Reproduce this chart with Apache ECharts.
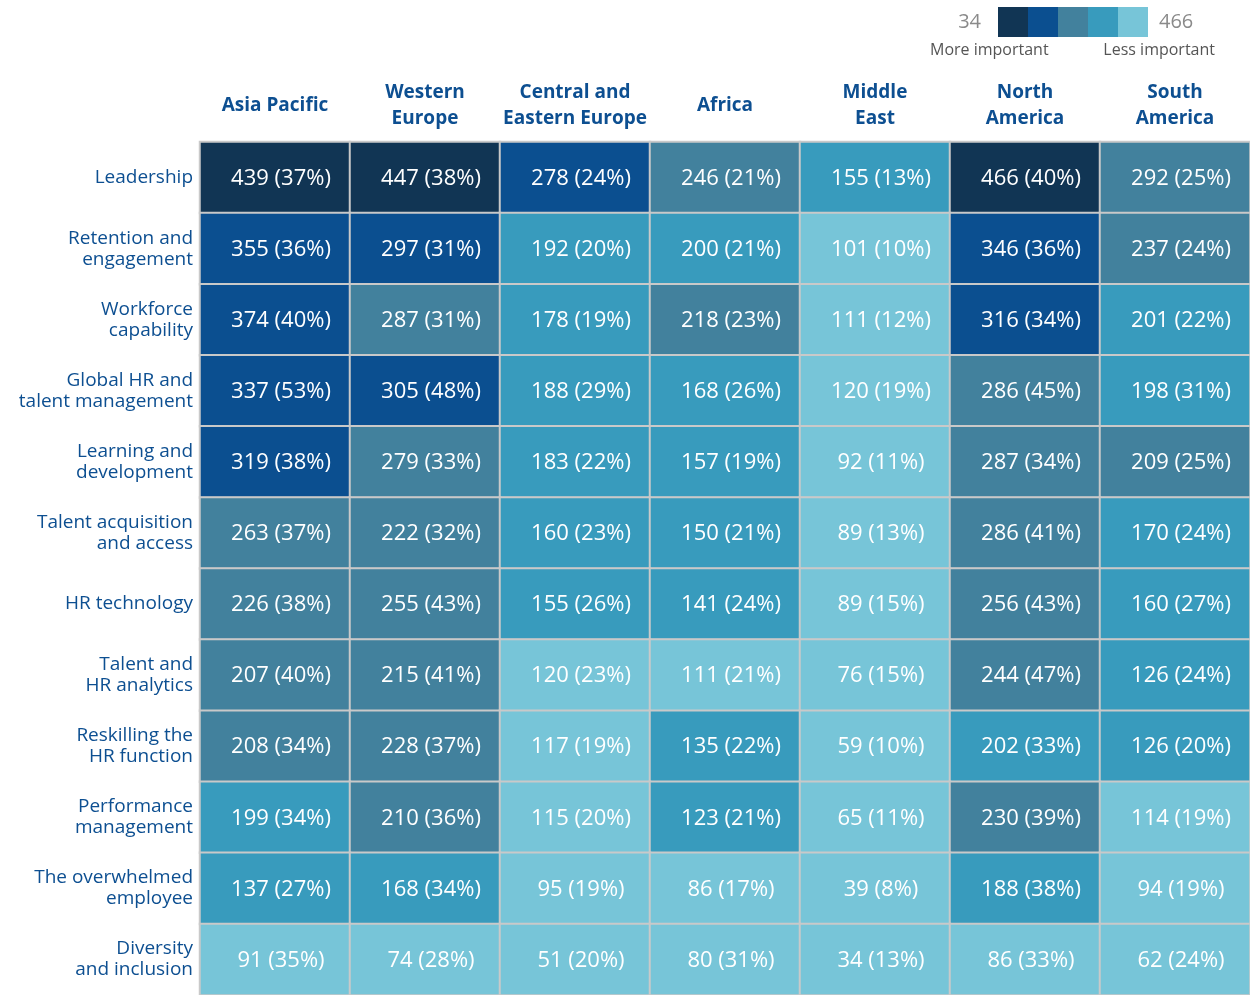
<!DOCTYPE html>
<html>
<head>
<meta charset="utf-8">
<script src="https://cdn.jsdelivr.net/npm/echarts@6/dist/echarts.min.js"></script>
<style>
  html, body { margin: 0; padding: 0; background: #fff; }
  #chart { width: 1250px; height: 995px; }
</style>
</head>
<body>
<div id="chart"></div>
<script>
const regions = [
  'Asia Pacific', 'Western\nEurope', 'Central and\nEastern Europe', 'Africa',
  'Middle\nEast', 'North\nAmerica', 'South\nAmerica',
];

const topics = [
  'Leadership',
  'Retention and\nengagement',
  'Workforce\ncapability',
  'Global HR and\ntalent management',
  'Learning and\ndevelopment',
  'Talent acquisition\nand access',
  'HR technology',
  'Talent and\nHR analytics',
  'Reskilling the\nHR function',
  'Performance\nmanagement',
  'The overwhelmed\nemployee',
  'Diversity\nand inclusion',
];

// number of mentions, one row per topic, one column per region
const counts = [
  [439, 447, 278, 246, 155, 466, 292],
  [355, 297, 192, 200, 101, 346, 237],
  [374, 287, 178, 218, 111, 316, 201],
  [337, 305, 188, 168, 120, 286, 198],
  [319, 279, 183, 157, 92, 287, 209],
  [263, 222, 160, 150, 89, 286, 170],
  [226, 255, 155, 141, 89, 256, 160],
  [207, 215, 120, 111, 76, 244, 126],
  [208, 228, 117, 135, 59, 202, 126],
  [199, 210, 115, 123, 65, 230, 114],
  [137, 168, 95, 86, 39, 188, 94],
  [91, 74, 51, 80, 34, 86, 62],
];

// share of respondents (%)
const shares = [
  [37, 38, 24, 21, 13, 40, 25],
  [36, 31, 20, 21, 10, 36, 24],
  [40, 31, 19, 23, 12, 34, 22],
  [53, 48, 29, 26, 19, 45, 31],
  [38, 33, 22, 19, 11, 34, 25],
  [37, 32, 23, 21, 13, 41, 24],
  [38, 43, 26, 24, 15, 43, 27],
  [40, 41, 23, 21, 15, 47, 24],
  [34, 37, 19, 22, 10, 33, 20],
  [34, 36, 20, 21, 11, 39, 19],
  [27, 34, 19, 17, 8, 38, 19],
  [35, 28, 20, 31, 13, 33, 24],
];

// importance band shown in the source (1 = more important ... 5 = less important)
const bands = [
  [1, 1, 2, 3, 4, 1, 3],
  [2, 2, 4, 4, 5, 2, 3],
  [2, 3, 4, 3, 5, 2, 4],
  [2, 2, 4, 4, 5, 3, 4],
  [2, 3, 4, 4, 5, 3, 3],
  [3, 3, 4, 4, 5, 3, 4],
  [3, 3, 4, 4, 5, 3, 4],
  [3, 3, 5, 5, 5, 3, 4],
  [3, 3, 5, 4, 5, 4, 4],
  [4, 3, 5, 4, 5, 3, 5],
  [4, 4, 5, 5, 5, 4, 5],
  [5, 5, 5, 5, 5, 5, 5],
];

const legendLow = '34';
const legendHigh = '466';
const bandColors = ['#113554', '#0b4f90', '#42819d', '#389bbd', '#77c5d8'];

const cells = [];
counts.forEach((row, r) => {
  row.forEach((v, c) => {
    cells.push([c, r, v, shares[r][c], bands[r][c]]);
  });
});

const chart = echarts.init(document.getElementById('chart'));
const blue = '#0d4f91';
const font = 'Open Sans';

// colour key in the top right corner
const keyX = 998;
const keyY = 7;
const keyBox = 30;
const legendItems = bandColors.map((color, i) => ({
  type: 'rect',
  shape: { x: keyX + i * keyBox, y: keyY, width: keyBox, height: keyBox },
  style: { fill: color },
}));

chart.setOption({
  backgroundColor: '#fff',
  animation: false,
  textStyle: { fontFamily: font },
  grid: { left: 200, right: 0, top: 142, bottom: 0 },
  xAxis: {
    type: 'category',
    position: 'top',
    data: regions,
    axisLine: { show: false },
    axisTick: { show: false },
    axisLabel: {
      color: blue,
      fontWeight: 'bold',
      fontSize: 19,
      lineHeight: 26,
      fontFamily: font,
      margin: 36,
      verticalAlign: 'middle',
      interval: 0,
    },
  },
  yAxis: {
    type: 'category',
    inverse: true,
    data: topics,
    axisLine: { show: false },
    axisTick: { show: false },
    axisLabel: {
      color: blue,
      fontSize: 19,
      lineHeight: 21,
      fontFamily: font,
      margin: 7,
      align: 'right',
      interval: 0,
    },
  },
  visualMap: {
    show: false,
    type: 'piecewise',
    dimension: 4,
    pieces: bandColors.map((color, i) => ({ value: i + 1, color })),
  },
  graphic: [
    ...legendItems,
    {
      type: 'text', x: keyX - 17, y: keyY + keyBox / 2,
      style: {
        text: legendLow, fill: '#8a8a8a', fontSize: 20, fontFamily: font,
        align: 'right', verticalAlign: 'middle',
      },
    },
    {
      type: 'text', x: keyX + 5 * keyBox + 11, y: keyY + keyBox / 2,
      style: {
        text: legendHigh, fill: '#8a8a8a', fontSize: 20, fontFamily: font,
        align: 'left', verticalAlign: 'middle',
      },
    },
    {
      type: 'text', x: 930, y: 50,
      style: {
        text: 'More important', fill: '#555', fontSize: 16, fontFamily: font,
        verticalAlign: 'middle',
      },
    },
    {
      type: 'text', x: 1215, y: 50,
      style: {
        text: 'Less important', fill: '#555', fontSize: 16, fontFamily: font,
        align: 'right', verticalAlign: 'middle',
      },
    },
  ],
  series: [
    {
      type: 'heatmap',
      data: cells,
      encode: { x: 0, y: 1 },
      itemStyle: { borderColor: '#c9c9c9', borderWidth: 2 },
      label: {
        show: true,
        color: '#fff',
        fontSize: 22,
        fontFamily: font,
        offset: [6, 1],
        formatter: (p) => `${p.data[2]} (${p.data[3]}%)`,
      },
      emphasis: { disabled: true },
    },
  ],
});
</script>
</body>
</html>
